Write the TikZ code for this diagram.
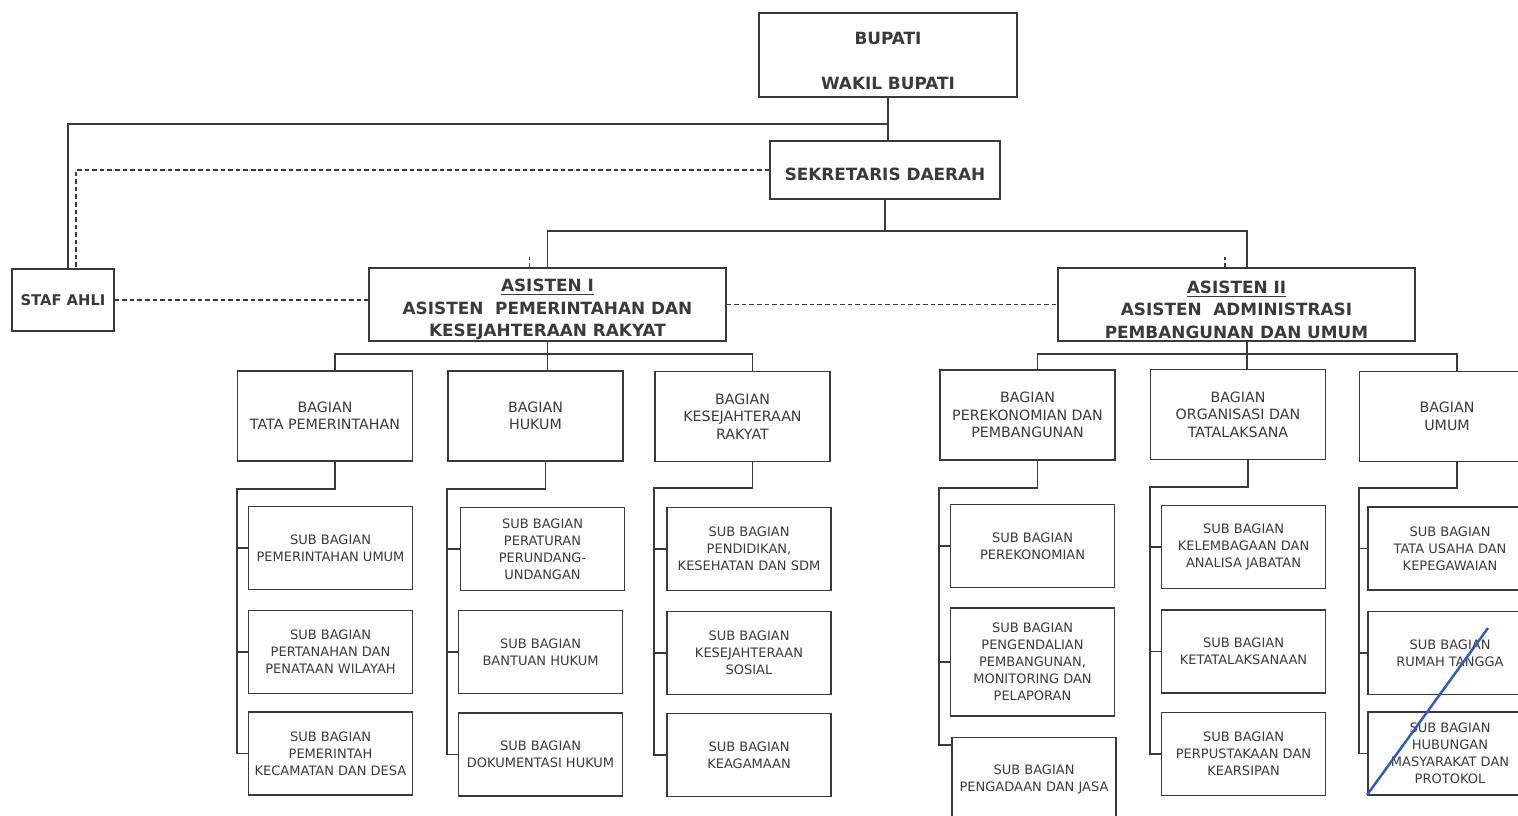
\documentclass[tikz,border=0pt]{standalone}
\usepackage{fontspec}
\setmainfont{DejaVu Sans}
\definecolor{tinta}{HTML}{3A3A3A}
\definecolor{pena}{HTML}{2F5BC4}
\begin{document}
\begin{tikzpicture}[x=0.02cm, y=-0.02cm,
    kotak/.style={draw=tinta, line width=0.9pt, inner sep=0pt, align=center, text=tinta},
    kepala/.style={kotak, font=\bfseries\fontsize{9.6}{12.8}\selectfont},
    bagian/.style={kotak, minimum width=3.5cm, minimum height=1.8cm, font=\fontsize{8.1}{9.9}\selectfont},
    subbag/.style={kotak, minimum width=3.28cm, minimum height=1.66cm, font=\fontsize{7.4}{9.7}\selectfont},
    garis/.style={draw=tinta, line width=0.9pt},
    putus/.style={garis, dash pattern=on 2.6pt off 1.7pt}]
\useasboundingbox (0,0) rectangle (1518,815);
\begin{scope}
\clip (0,0) rectangle (1518,815);
% pimpinan
\node[kepala, minimum width=5.16cm, minimum height=1.68cm] (bupati) at (888,55) {\rule{0pt}{0.5cm}BUPATI\\[0.45cm]WAKIL BUPATI};
\node[kepala, minimum width=4.6cm, minimum height=1.16cm] (sekda) at (885,170) {\rule{0pt}{0.42cm}SEKRETARIS DAERAH};
\node[kepala, font=\bfseries\fontsize{8.4}{10}\selectfont, minimum width=2.04cm, minimum height=1.24cm] (staf) at (63,300) {STAF AHLI};
\node[kepala, minimum width=7.14cm, minimum height=1.46cm] (asisI) at (547.5,304.5) {\rule{0pt}{0.46cm}\underline{ASISTEN I}\\ASISTEN\ \ PEMERINTAHAN DAN\\KESEJAHTERAAN RAKYAT};
\node[kepala, minimum width=7.14cm, minimum height=1.46cm] (asisII) at (1236.5,304.5) {\rule{0pt}{0.46cm}\underline{ASISTEN II}\\ASISTEN\ \ ADMINISTRASI\\PEMBANGUNAN DAN UMUM};
% bagian
\node[bagian] (tapem) at (325,416) {BAGIAN\\TATA PEMERINTAHAN};
\node[bagian] (hukum) at (535.5,416) {BAGIAN\\HUKUM};
\node[bagian] (kesra) at (742.5,416.5) {BAGIAN\\KESEJAHTERAAN\\RAKYAT};
\node[bagian] (ekbang) at (1027.5,415) {BAGIAN\\PEREKONOMIAN DAN\\PEMBANGUNAN};
\node[bagian] (orta) at (1238,414.5) {BAGIAN\\ORGANISASI DAN\\TATALAKSANA};
\node[bagian] (umum) at (1447,416.5) {BAGIAN\\UMUM};
% sub bagian
\node[subbag] (tapem1) at (330.5,548) {SUB BAGIAN\\PEMERINTAHAN UMUM};
\node[subbag] (tapem2) at (330.5,652) {SUB BAGIAN\\PERTANAHAN DAN\\PENATAAN WILAYAH};
\node[subbag] (tapem3) at (330.5,753.5) {SUB BAGIAN\\PEMERINTAH\\KECAMATAN DAN DESA};
\node[subbag] (hukum1) at (542.5,549) {SUB BAGIAN\\PERATURAN\\PERUNDANG-\\UNDANGAN};
\node[subbag] (hukum2) at (540.5,652) {SUB BAGIAN\\BANTUAN HUKUM};
\node[subbag] (hukum3) at (540.5,754.5) {SUB BAGIAN\\DOKUMENTASI HUKUM};
\node[subbag] (kesra1) at (749,549) {SUB BAGIAN\\PENDIDIKAN,\\KESEHATAN DAN SDM};
\node[subbag] (kesra2) at (749,653) {SUB BAGIAN\\KESEJAHTERAAN\\SOSIAL};
\node[subbag] (kesra3) at (749,755) {SUB BAGIAN\\KEAGAMAAN};
\node[subbag] (ekbang1) at (1032.5,546) {SUB BAGIAN\\PEREKONOMIAN};
\node[subbag, minimum height=2.16cm] (ekbang2) at (1032.5,662) {SUB BAGIAN\\PENGENDALIAN\\PEMBANGUNAN,\\MONITORING DAN\\PELAPORAN};
\node[subbag] (ekbang3) at (1034,779) {SUB BAGIAN\\PENGADAAN DAN JASA};
\node[subbag] (orta1) at (1243.5,547) {SUB BAGIAN\\KELEMBAGAAN DAN\\ANALISA JABATAN};
\node[subbag] (orta2) at (1243.5,651.5) {SUB BAGIAN\\KETATALAKSANAAN};
\node[subbag] (orta3) at (1243.5,754) {SUB BAGIAN\\PERPUSTAKAAN DAN\\KEARSIPAN};
\node[subbag] (umum1) at (1450,548.5) {SUB BAGIAN\\TATA USAHA DAN\\KEPEGAWAIAN};
\node[subbag] (umum2) at (1450,653) {SUB BAGIAN\\RUMAH TANGGA};
\node[subbag] (umum3) at (1450,753.5) {SUB BAGIAN\\HUBUNGAN\\MASYARAKAT DAN\\PROTOKOL};
% garis komando
\draw[garis] (bupati.south) -- (bupati.south |- sekda.north);
\draw[garis] (bupati.south) ++(0,26) -| ([xshift=0.1cm]staf.north);
\draw[putus] (sekda.west) -| ([xshift=0.26cm]staf.north);
\draw[garis] (sekda.south) -- ++(0,31) coordinate (cabang);
\draw[garis] (cabang) -| (asisI.north);
\draw[garis] (cabang) -| ([xshift=0.21cm]asisII.north);
\draw[putus] ([xshift=-0.36cm]asisI.north) -- ++(0,-10);
\draw[putus] ([xshift=-0.23cm]asisII.north) -- ++(0,-10);
\draw[putus] (staf.east) -- (staf.east -| asisI.west);
\draw[putus] (asisI.east) -- (asisII.west);
\draw[garis] (asisI.south) -- ++(0,12) coordinate (cabI);
\draw[garis] (cabI) -| ([xshift=0.2cm]tapem.north);
\draw[garis] (cabI) -| ([xshift=0.2cm]kesra.north);
\draw[garis] (cabI) -- (cabI |- hukum.north);
\draw[garis] ([xshift=0.21cm]asisII.south) -- ++(0,12) coordinate (cabII);
\draw[garis] (cabII) -| ([xshift=0.2cm]ekbang.north);
\draw[garis] (cabII) -| ([xshift=0.2cm]umum.north);
\draw[garis] (cabII) -- (cabII |- orta.north);
% ke sub bagian
\draw[garis] ([xshift=0.2cm]tapem.south) -- ++(0,27) -| (tapem.west |- tapem3.west) -- (tapem3.west);
\draw[garis] (tapem1.west) -- (tapem1.west -| tapem.west);
\draw[garis] (tapem2.west) -- (tapem2.west -| tapem.west);
\draw[garis] ([xshift=0.2cm]hukum.south) -- ++(0,27) -| (hukum.west |- hukum3.west) -- (hukum3.west);
\draw[garis] (hukum1.west) -- (hukum1.west -| hukum.west);
\draw[garis] (hukum2.west) -- (hukum2.west -| hukum.west);
\draw[garis] ([xshift=0.2cm]kesra.south) -- ++(0,26) -| (kesra.west |- kesra3.west) -- (kesra3.west);
\draw[garis] (kesra1.west) -- (kesra1.west -| kesra.west);
\draw[garis] (kesra2.west) -- (kesra2.west -| kesra.west);
\draw[garis] ([xshift=0.2cm]ekbang.south) -- ++(0,27) -| ([yshift=-0.16cm]ekbang.west |- ekbang3.north) -- ([yshift=-0.16cm]ekbang3.north west);
\draw[garis] (ekbang1.west) -- (ekbang1.west -| ekbang.west);
\draw[garis] (ekbang2.west) -- (ekbang2.west -| ekbang.west);
\draw[garis] ([xshift=0.2cm]orta.south) -- ++(0,27) -| (orta.west |- orta3.west) -- (orta3.west);
\draw[garis] (orta1.west) -- (orta1.west -| orta.west);
\draw[garis] (orta2.west) -- (orta2.west -| orta.west);
\draw[garis] ([xshift=0.2cm]umum.south) -- ++(0,26) -| (umum.west |- umum3.west) -- (umum3.west);
\draw[garis] (umum1.west) -- (umum1.west -| umum.west);
\draw[garis] (umum2.west) -- (umum2.west -| umum.west);
% coretan pena
\draw[pena, line width=1.4pt] (1367,795) -- (1488,628);
\end{scope}
\end{tikzpicture}
\end{document}
